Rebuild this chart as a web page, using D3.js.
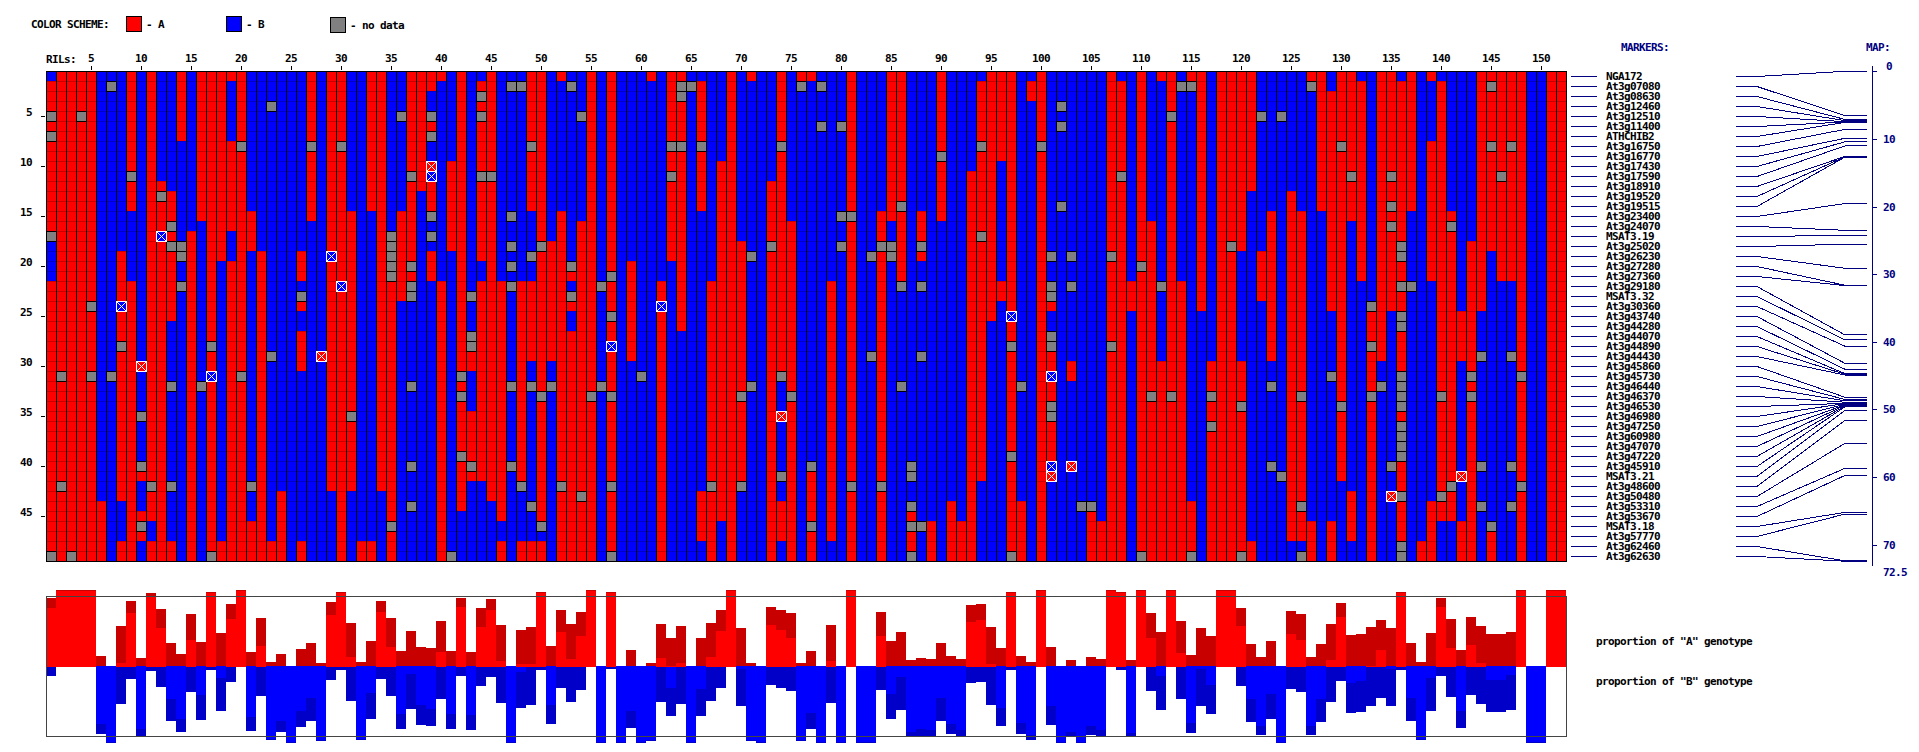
<!DOCTYPE html>
<html>
<head>
<meta charset="utf-8">
<title>RIL genotypes</title>
<script src="https://cdn.jsdelivr.net/npm/d3@7"></script>
<style>
    body { margin: 0; background: #fff; }
    text { font-family: "DejaVu Sans Mono", "Liberation Mono", monospace; font-weight: bold; font-size: 11px; letter-spacing: -0.62px; }
</style>
</head>
<body>
<div id="chart"></div>
<script>
// Marker names, top to bottom
var markers = ["NGA172","At3g07080","At3g08630","At3g12460","At3g12510","At3g11400","ATHCHIB2","At3g16750","At3g16770","At3g17430",
    "At3g17590","At3g18910","At3g19520","At3g19515","At3g23400","At3g24070","MSAT3.19","At3g25020","At3g26230","At3g27280",
    "At3g27360","At3g29180","MSAT3.32","At3g30360","At3g43740","At3g44280","At3g44070","At3g44890","At3g44430","At3g45860",
    "At3g45730","At3g46440","At3g46370","At3g46530","At3g46980","At3g47250","At3g60980","At3g47070","At3g47220","At3g45910",
    "MSAT3.21","At3g48600","At3g50480","At3g53310","At3g53670","MSAT3.18","At3g57770","At3g62460","At3g62630"];

// Map position of each marker, cM
var mapPositions = [0,6.57,7.12,7.3,7.45,7.5,7.55,8.59,9.91,10.43,11.03,12.59,12.64,12.69,19.56,23.52,24.27,25.58,29.14,31.65,
    31.7,39,39.72,40.67,43.2,44.08,44.73,44.83,44.93,48.22,48.55,48.75,48.95,49.12,49.15,49.25,49.35,49.42,49.52,49.62,
    50.15,51.63,55.03,58.73,59.78,65.25,65.5,72.42,72.47];

// Genotype of each RIL as runs down the markers.
// a = A, b = B, n = no data, capital A / B = flagged cell (the ones with a cross)
var rilRuns = [
    "b1a3n1a1n1a9n1b4a27n1","a30n1a10n1a7","a48n1","a4n1a44","a23n1a6n1a18","b43a6","b1n1b28n1b18","b18a5B1a3n1a15b4a2","a10n1a3b7a28","b29A1b4n1b4n1a1b3a1n1a1b2",
    "a41n1a3b2a2","b11a1n1a3B1a32","b12a3n1a1n1a7b6n1b9n1b5a2","a7b10n2b2n1b27","b16a33","a15b16n1b17","a27n1a2B1a17n1","a19b28a2","a1b6a9b3a30","a7n1a22n1a18",
    "b14a4b23n1b3a4","b18a31","b3n1b24n1b18a2","b42a7","b49","b18a3b1n1a1b2a4b17a2","a7n1a7b34","b28A1b20","a18B1a23b7","a7n1a13B1a27",
    "b14a20n1a7b7","b47a2","a14b33a2","a42b7","b16n5a24n1a3","b4n1b9a9b26","a10n1a8n1a1n2b8n1b7n1b3n1b5","a12b37","a2b2n1a1n1b2A1B1a3n1b1n1b1a3b28","a1b20a28",
    "b9a9b30n1","a30n1a1n1a5n1a5b5","b22n1b3n2a2b4a5n1a1b8","b1a1n1a1n1a5n1a8b2a20b8","a10n1a32b6","b21a24b2a2","b1n1b12n1b2n1b1n1b1n1b9n1b7n1b9","b1n1b19a20n1b5a2","a7n1a6b4n1b2a8b2n1b11n1b3a2","a17n1a14n1a12n1b1a2",
    "b17a12b2n1b17","a1b13a27n1a7","b1n1b17n1a1b1n1a1b2a23","b4n1b10a27n1a6","a32n1a16","b21n1b9n1b17","a20n1a3n1a2B1a4n1a8n1a6n1","b49","b19a10b20","b30n1b18",
    "a1b48","b21a2B1a25","a7n1a2n1a8b30","a1n2a4n1a18b23","b1n1b47","b1a6n1a6b28a5b2","b21a20n1a7","b9a36b4","a49","b17a15n1a8n1b7",
    "a1b17n1b12n1b17","b49","b11a6n1a31","a7n1a22n1b3A1b5n1b2a4b2","b15a17n1a16","a1n1b47","a1b38n1a5n1a3","b1n1b3n1b43","b21a26b2","b5n1b8n1b2n1b31",
    "a14n1a26n1a7","b49","b18n1b9n1b20","b14a3n1a23n1a7","a15b2n2b30","a13n1a7n1b9n1b17","b39n2b2n1a1n1a2n1","b14a3n1a1b2n1b6n1b16n1b3","b45a4","a8n1a6b34",
    "b43a6","b45a4","b10a39","b1a6n1a8n1a24b8","a25b24","a9b12a2b26","a24B1a2n1a10n1a9n1","b31n1b11a6","b1a2b46","a7n1a41",
    "b18n1b2n2a1b2n2a2B1a2n2a4B1A1b8","b3n1b1n1b7n1b35","b18n1b2n1b7a2b8A1b9","b43n1b5","b43n1a5","b45a4","a18n1a8n1a21","b1a9n1a38","b21a3b25","a19n1a28n1",
    "b15a17n1a16","a1b20n1b7a20","a4n1a27n1a16","b1n1b19a28","a1n1b41a5n1","a24b25","b29a3n1a2n1a13","a49","a17n1a31","a18b11a4n1a14n1",
    "a12b35a2","b4n1b13a5b26","b14a15b2n1b7n1b9","b4n1b35n1b8","b12a35b2","b14a18n1a10n1a3b1n1","a1n1b43a4","a14b35","b2a22b6n1b14a4","a7n1a25n1a7b8",
    "a10n1a4b27a5b2","b1a20b28","b23n1a3n1a4n1a16","a29b2n1b17","a10n1a2n1a1n1a8b15n1b2A1b6","b1a16n2a2n1a2n2a4n4a1n4a3n1a4n2","a14b7n1b27","b47a2","a1b6a14b22a6","b1a31n1a9n1a2b4",
    "b14a1n1a25n1a3b4","b24a5b11A1b4a4","b17a13n1a1n1a16","a24b4n1b10n1b3n1b5","a1n1a5n1a10b27n1a3","a10n1a10b28","a7n1a13b7n1b10n1b3n1b5","a30n1a10n1a7","b49","b49",
    "a49","a49"
];

// Proportion bars under the grid, percent per RIL.
// Total is the full bar (dark), core is the bright part of it.
var redTotal = [89.5,100,100,100,100,13.2,0,52.6,85.5,10.5,96.1,75,30.3,15.8,68.4,31.6,97.4,43.4,81.6,100,
    18.4,63.2,5.3,15.8,0,22.4,30.3,3.9,84.2,97.4,56.6,5.3,32.9,85.5,63.2,19.7,46.1,25,23.7,59.2,
    19.7,89.5,18.4,76.3,88.2,53.9,0,47.4,51.3,97.4,26.3,73.7,55.3,71.1,100,0,97.4,0,21.1,0,
    3.9,55.3,36.8,52.6,0,36.8,56.6,73.7,100,50,3.9,0,77.6,73.7,69.7,3.9,19.7,0,53.9,0,
    100,0,0,71.1,32.9,44.7,7.9,10.5,9.2,30.3,13.2,9.2,80.3,81.6,51.3,23.7,97.4,13.2,5.3,100,
    25,0,7.9,0,11.8,9.2,100,97.4,7.9,100,69.7,44.7,100,59.2,14.5,50,39.5,100,100,76.3,
    28.9,11.8,32.9,0,72.4,68.4,11.8,28.9,55.3,82.9,40.8,42.1,51.3,60.5,50,97.4,30.3,5.3,43.4,89.5,
    61.8,21.1,64.5,52.6,42.1,42.1,44.7,100,0,0,100,100];
var redCore = [78.1,100,100,100,100,0,0,5.3,71.1,0,92.1,51.3,0,0,35.5,0,97.4,0,63.2,100,
    0,27.6,0,0,0,0,0,0,68.4,97.4,13.2,0,0,72.4,26.3,0,0,0,0,19.7,
    0,78.9,0,52.6,75,7.9,0,3.9,3.9,97.4,0,46.1,10.5,40.8,100,0,97.4,0,0,0,
    0,11.8,1.3,5.3,0,0,13.2,47.4,100,0,0,0,55.3,48.7,38.2,0,0,0,7.9,0,
    100,0,0,40.8,0,0,0,0,0,0,0,0,59.2,61.8,3.9,0,97.4,0,0,100,
    0,0,0,0,0,0,100,97.4,0,100,38.2,0,100,18.4,0,0,0,100,100,53.9,
    0,0,0,0,43.4,35.5,0,0,9.2,65.8,0,0,1.3,22.4,0,97.4,0,0,0,78.9,
    25,0,28.9,5.3,0,0,0,100,0,0,100,100];
var blueTotal = [11.8,0,0,0,0,88.2,100,48.7,15.8,90.8,5.3,26.3,71.1,85.5,32.9,69.7,3.9,57.9,19.7,0,
    84.2,38.2,96.1,85.5,100,78.9,71.1,97.4,17.1,3.9,44.7,96.1,68.4,15.8,38.2,81.6,55.3,76.3,77.6,42.1,
    81.6,11.8,82.9,25,13.2,47.4,100,53.9,50,3.9,75,27.6,46.1,30.3,0,100,2.6,100,80.3,100,
    97.4,46.1,64.5,48.7,100,64.5,44.7,27.6,0,51.3,97.4,100,23.7,27.6,31.6,97.4,81.6,100,47.4,100,
    0,100,100,30.3,68.4,56.6,92.1,90.8,92.1,71.1,88.2,92.1,21.1,19.7,50,77.6,3.9,88.2,96.1,0,
    76.3,100,92.1,100,89.5,92.1,0,3.9,92.1,0,31.6,56.6,0,42.1,86.8,51.3,61.8,0,0,25,
    72.4,89.5,68.4,100,28.9,32.9,89.5,72.4,46.1,18.4,60.5,59.2,51.3,40.8,51.3,3.9,71.1,96.1,57.9,11.8,
    39.5,80.3,36.8,48.7,59.2,59.2,56.6,0,100,100,0,0];
var blueCore = [0,0,0,0,0,76.3,100,0,0,82.9,0,0,43.4,69.7,0,38.2,0,15.8,0,0,
    67.1,0,96.1,72.4,100,59.2,42.1,97.4,0,0,0,96.1,35.5,0,0,63.2,10.5,51.3,56.6,0,
    63.2,0,64.5,0,0,0,100,7.9,0,0,51.3,0,0,0,0,100,0,100,59.2,100,
    97.4,0,28.9,0,100,30.3,0,0,0,3.9,97.4,100,0,0,0,97.4,61.8,100,0,100,
    0,100,100,0,36.8,14.5,86.8,82.9,84.2,42.1,76.3,84.2,0,0,0,55.3,0,75,90.8,0,
    52.6,100,86.8,100,78.9,84.2,0,0,88.2,0,0,13.2,0,0,75,3.9,25,0,0,0,
    43.4,78.9,36.8,100,0,0,78.9,43.4,0,0,22.4,19.7,0,0,3.9,0,42.1,96.1,15.8,0,
    0,59.2,0,0,18.4,18.4,11.8,0,100,100,0,0];

var rilTicks = d3.range(5, 151, 5);
var rowTicks = d3.range(5, 46, 5);
var mapTicks = d3.range(0, 71, 10);

var legendItems = [
    {label: "- A", color: "#ff0000"},
    {label: "- B", color: "#0000ff"},
    {label: "- no data", color: "#808080"}
];

var width = 1919;
var height = 752;
var navy = "#000080";

var rils = d3.range(1, rilRuns.length + 1);
var rows = d3.range(1, markers.length + 1);

// Turn "b1a3n1" into one letter per marker
function DecodeRuns(runs) {
    var cells = [];
    runs.replace(/([abnAB])(\d+)/g, function (m, letter, count) {
        for (var i = 0; i < +count; i++) {
            cells.push(letter);
        }
    });
    if (cells.length != markers.length) {
        console.log("bad column", runs, cells.length);
    }
    return cells;
}

function GetCells() {
    var data = [];
    rilRuns.forEach(function (runs, i) {
        DecodeRuns(runs).forEach(function (letter, j) {
            data.push({ril: rils[i], row: rows[j], letter: letter});
        });
    });
    return data;
}

var svg = d3.select("#chart")
    .append("svg")
    .attr("width", width)
    .attr("height", height)
    .style("display", "block");

var xScale = d3.scaleBand().domain(rils).range([46, 1566]);
var yScale = d3.scaleBand().domain(rows).range([71, 561]);

function DrawLegend() {
    var g = svg.append("g");
    g.append("text").attr("x", 31).attr("y", 28).text("COLOR SCHEME:");
    var xs = [126, 226, 330];
    legendItems.forEach(function (d, i) {
        g.append("rect")
            .attr("x", xs[i] + 0.5)
            .attr("y", (i == 2 ? 17 : 16) + 0.5)
            .attr("width", 15)
            .attr("height", 15)
            .attr("fill", d.color)
            .attr("stroke", "#000");
        g.append("text")
            .attr("x", xs[i] + 20)
            .attr("y", i == 2 ? 29 : 28)
            .text(d.label);
    });
}

function DrawGrid() {
    var cells = GetCells();
    var g = svg.append("g").attr("shape-rendering", "crispEdges");
    var band = xScale.bandwidth();

    var fills = {a: "#ff0000", b: "#0000ff", A: "#ff0000", B: "#0000ff", n: "#808080"};
    var lines = {a: "#c80000", b: "#0000c8", A: "#c80000", B: "#0000c8", n: "#000"};

    // Plain cells, row lines in a darker shade
    g.selectAll("rect.cell")
        .data(cells)
        .enter()
        .append("rect")
            .attr("class", "cell")
            .attr("x", function (d) { return xScale(d.ril) + 0.5; })
            .attr("y", function (d) { return yScale(d.row) + 0.5; })
            .attr("width", band)
            .attr("height", yScale.bandwidth())
            .attr("fill", function (d) { return fills[d.letter]; })
            .attr("stroke", function (d) { return lines[d.letter]; });

    // Black lines between the RILs
    g.selectAll("line.col")
        .data(d3.range(0, rils.length + 1))
        .enter()
        .append("line")
            .attr("class", "col")
            .attr("x1", function (d) { return 46.5 + d * band; })
            .attr("x2", function (d) { return 46.5 + d * band; })
            .attr("y1", 71)
            .attr("y2", 562)
            .attr("stroke", "#000");

    g.append("line").attr("x1", 46).attr("x2", 1567).attr("y1", 71.5).attr("y2", 71.5).attr("stroke", "#000");
    g.append("line").attr("x1", 46).attr("x2", 1567).attr("y1", 561.5).attr("y2", 561.5).attr("stroke", "#000");

    // No data cells keep a black box
    g.selectAll("rect.nodata")
        .data(cells.filter(function (d) { return d.letter == "n"; }))
        .enter()
        .append("rect")
            .attr("class", "nodata")
            .attr("x", function (d) { return xScale(d.ril) + 0.5; })
            .attr("y", function (d) { return yScale(d.row) + 0.5; })
            .attr("width", band)
            .attr("height", yScale.bandwidth())
            .attr("fill", "#808080")
            .attr("stroke", "#000");

    // Flagged cells: white box and cross
    var flagged = g.selectAll("g.flag")
        .data(cells.filter(function (d) { return d.letter == "A" || d.letter == "B"; }))
        .enter()
        .append("g")
            .attr("class", "flag")
            .attr("transform", function (d) {
                return "translate(" + (xScale(d.ril) + 0.5) + "," + (yScale(d.row) + 0.5) + ")";
            });
    flagged.append("rect")
        .attr("width", band)
        .attr("height", yScale.bandwidth())
        .attr("fill", function (d) { return fills[d.letter]; })
        .attr("stroke", "#fff");
    flagged.append("path")
        .attr("d", "M0,0L10,10M10,0L0,10")
        .attr("fill", "none")
        .attr("stroke", "#fff");
}

function DrawAxes() {
    // RIL numbers on top
    var top = svg.append("g")
        .attr("transform", "translate(0,70)")
        .attr("shape-rendering", "crispEdges")
        .call(d3.axisTop(xScale).tickValues(rilTicks).tickSize(4).tickPadding(4));
    top.select(".domain").remove();
    top.selectAll("text").attr("fill", "#000");
    svg.append("text").attr("x", 46).attr("y", 63).text("RILs:");

    // Row numbers on the left
    var left = svg.append("g")
        .attr("transform", "translate(45,0)")
        .attr("shape-rendering", "crispEdges")
        .call(d3.axisLeft(yScale).tickValues(rowTicks).tickSize(4).tickPadding(9));
    left.select(".domain").remove();
    left.selectAll("text").attr("dy", "0").attr("y", 0).attr("fill", "#000");
}

function DrawMarkers() {
    var g = svg.append("g");
    var centre = function (d, i) { return yScale(rows[i]) + yScale.bandwidth() / 2; };

    g.selectAll("line.mark")
        .data(markers)
        .enter()
        .append("line")
            .attr("class", "mark")
            .attr("x1", 1571)
            .attr("x2", 1597)
            .attr("y1", function (d, i) { return Math.floor(centre(d, i)) + 0.5; })
            .attr("y2", function (d, i) { return Math.floor(centre(d, i)) + 0.5; })
            .attr("stroke", navy)
            .attr("shape-rendering", "crispEdges");

    g.selectAll("text.name")
        .data(markers)
        .enter()
        .append("text")
            .attr("class", "name")
            .attr("x", 1606)
            .attr("y", function (d, i) { return centre(d, i) + 4; })
            .text(function (d) { return d; });

    svg.append("text").attr("x", 1621).attr("y", 51).attr("fill", navy).text("MARKERS:");
    svg.append("text").attr("x", 1866).attr("y", 51).attr("fill", navy).text("MAP:");
}

function DrawMap() {
    var mapScale = d3.scaleLinear().domain([0, 72.5]).range([71.3, 561.4]);
    var g = svg.append("g").attr("shape-rendering", "crispEdges");

    // Each marker row joined to its place on the map
    var link = d3.line();
    g.selectAll("path.link")
        .data(mapPositions)
        .enter()
        .append("path")
            .attr("class", "link")
            .attr("fill", "none")
            .attr("stroke", navy)
            .attr("d", function (d, i) {
                var rowY = yScale(rows[i]) + yScale.bandwidth() / 2 + 0.5;
                var mapY = mapScale(d);
                return link([[1736, rowY], [1757, rowY], [1845, mapY], [1867, mapY]]);
            });

    var axis = svg.append("g")
        .attr("transform", "translate(1872,0)")
        .attr("shape-rendering", "crispEdges")
        .call(d3.axisRight(mapScale).tickValues(mapTicks).tickSize(5).tickPadding(6));
    axis.select(".domain").remove();
    axis.selectAll("line").attr("stroke", navy);
    axis.selectAll("text").attr("fill", navy);
    axis.selectAll("text").filter(function (d) { return d == 0; }).attr("y", -5).attr("x", 14);

    axis.append("line")
        .attr("y1", 66)
        .attr("y2", 566)
        .attr("stroke", navy);

    svg.append("text").attr("x", 1883).attr("y", 576).attr("fill", navy).text("72.5");
}

function DrawProportions() {
    var g = svg.append("g").attr("shape-rendering", "crispEdges");
    var band = xScale.bandwidth();
    var barScale = d3.scaleLinear().domain([0, 100]).range([0, 76]);

    // Draw one layer of bars, going up or down from a base line
    function Layer(values, base, up, color) {
        g.append("g")
            .selectAll("rect")
            .data(values)
            .enter()
            .append("rect")
                .attr("x", function (d, i) { return xScale(rils[i]); })
                .attr("width", band)
                .attr("y", function (d) { return up ? base - barScale(d) : base; })
                .attr("height", function (d) { return barScale(d); })
                .attr("fill", color);
    }

    Layer(redTotal, 666, true, "#c80000");
    Layer(blueTotal, 667, false, "#0000c8");
    Layer(blueCore, 666, false, "#0000ff");
    Layer(redCore, 667, true, "#ff0000");

    g.append("rect")
        .attr("x", 46.5)
        .attr("y", 596.5)
        .attr("width", 1520)
        .attr("height", 140)
        .attr("fill", "none")
        .attr("stroke", "#444");

    svg.append("text").attr("x", 1596).attr("y", 645).text('proportion of "A" genotype');
    svg.append("text").attr("x", 1596).attr("y", 685).text('proportion of "B" genotype');
}

DrawLegend();
DrawGrid();
DrawAxes();
DrawMarkers();
DrawMap();
DrawProportions();
</script>
</body>
</html>
